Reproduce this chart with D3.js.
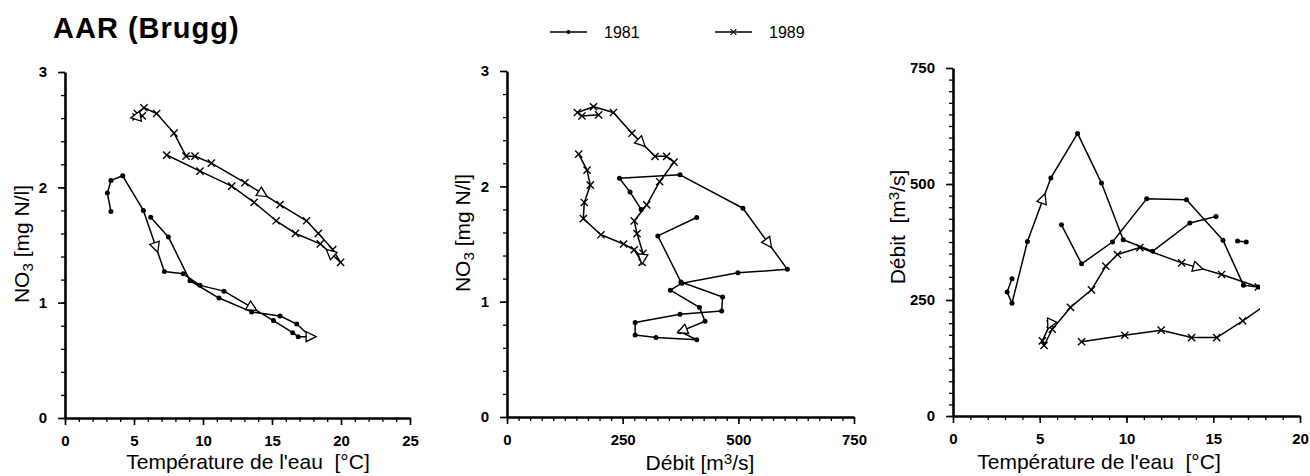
<!DOCTYPE html>
<html>
<head>
<meta charset="utf-8">
<script src="https://cdn.jsdelivr.net/npm/d3@7"></script>
<style>
  body { margin: 0; background: #fff; }
  svg { display: block; }
  text { font-family: "Liberation Sans", Arial, Helvetica, sans-serif; fill: #000; }
</style>
</head>
<body>
<svg id="chart" width="1310" height="476"></svg>
<script>
// ---- Data -------------------------------------------------------------
const years = ["1981", "1989"];

const tempTicks25 = [0, 5, 10, 15, 20, 25];
const tempTicks20 = [0, 5, 10, 15, 20];
const flowTicks = [0, 250, 500, 750];
const no3Ticks = [0, 1, 2, 3];

// NO3 [mg N/l] vs water temperature [°C], in sampling order
const no3Temp1981 = [[3.33,1.79],[3.07,1.95],[3.33,2.06],[4.18,2.10],[5.68,1.80],[7.2,1.27],[8.57,1.25],
  [9.78,1.15],[11.52,1.10],[13.65,0.95],[15.1,0.845],[16.5,0.74],[16.9,0.705],[17.8,0.705],[16.79,0.815],
  [15.58,0.885],[13.53,0.92],[11.16,1.04],[9.06,1.19],[7.49,1.57],[6.21,1.74]];
const no3Temp1989 = [[5.6,2.62],[5.15,2.61],[5.25,2.64],[5.72,2.69],[6.64,2.64],[7.9,2.47],[8.77,2.27],
  [9.42,2.27],[10.6,2.21],[13.04,2.04],[15.58,1.85],[17.5,1.71],[18.36,1.60],[19.4,1.46],[19.97,1.35],
  [18.5,1.51],[16.7,1.60],[15.3,1.71],[13.7,1.87],[12.08,2.01],[9.78,2.14],[7.37,2.28]];

// NO3 [mg N/l] vs discharge [m3/s]
const no3Flow1981 = [[290,1.80],[266,1.95],[243,2.07],[374,2.10],[510,1.81],[606,1.28],[499,1.25],
  [378,1.16],[353,1.10],[416,0.95],[428,0.83],[374,0.74],[410,0.67],[322,0.69],[277,0.71],[277,0.82],
  [374,0.89],[464,0.92],[466,1.04],[376,1.17],[326,1.57],[410,1.73]];
const no3Flow1989 = [[198,2.62],[162,2.61],[152,2.64],[187,2.69],[230,2.64],[270,2.46],[320,2.26],
  [345,2.26],[361,2.21],[330,2.04],[302,1.84],[275,1.70],[281,1.59],[294,1.42],[292,1.34],[275,1.45],
  [252,1.50],[203,1.58],[165,1.72],[167,1.86],[180,2.01],[173,2.14],[155,2.28]];

// Discharge [m3/s] vs water temperature [°C]; null = no connecting line
const flowTemp1981 = [[3.40,296],[3.12,267],[3.40,243],[4.29,376],[5.64,513],[7.18,609],[8.56,502],
  [9.81,380],[11.5,355],[13.65,416],[15.16,430],null,[16.4,377],[16.9,375],null,[17.6,278],[16.74,282],
  [15.56,379],[13.46,466],[11.16,468],[9.19,375],[7.41,328],[6.25,412]];
const flowTemp1989 = [[5.6,198],[5.15,162],[5.25,152],[5.72,187],[6.77,234],[7.98,272],[8.81,323],
  [9.48,348],[10.77,363],[13.18,330],[15.48,305],[17.6,278],[18.36,281],[19.4,294],[19.97,292],
  [18.5,252],[16.7,205],[15.2,169],[13.75,169],[12.0,185],[9.9,174],[7.41,160]];

// Direction arrows: [segment index, position along the segment]
const dirNo3Temp1981 = [[4,0.6],[8,0.95],[12,1]];
const dirNo3Temp1989 = [[0,1],[9,0.5],[14,0.5]];
const dirNo3Flow1981 = [[4,0.57],[10,0.9]];
const dirNo3Flow1989 = [[5,0.4],[13,0.6]];
const dirFlowTemp1981 = [[3,0.67]];
const dirFlowTemp1989 = [[0,0],[9,0.4]];

// ---- Drawing ----------------------------------------------------------
const svg = d3.select("#chart");

const markerShapes = {
  dot: g => g.append("circle").attr("r", 2.5).attr("fill", "#000"),
  cross: g => g.append("path").attr("d", "M-3.6,-3.6L3.6,3.6M-3.6,3.6L3.6,-3.6")
    .attr("stroke", "#000").attr("stroke-width", 1.4).attr("fill", "none")
};
const yearMarker = { "1981": "dot", "1989": "cross" };

const panels = [
  {
    id: "p1", xDomain: [0, 25], yDomain: [0, 3], xRange: [65, 410], yRange: [418, 72],
    xTicks: tempTicks25, xMinor: 1, yTicks: no3Ticks, yMinor: 0.2,
    series: [
      { year: "1981", pts: no3Temp1981, dirs: dirNo3Temp1981 },
      { year: "1989", pts: no3Temp1989, dirs: dirNo3Temp1989 }
    ],
    xLabel: { parts: [["Température de l'eau  [°C]"]], x: 248, y: 469 },
    yLabel: { parts: [["NO"], ["3", "sub"], [" [mg N/l]"]], x: 29, y: 244 }
  },
  {
    id: "p2", xDomain: [0, 750], yDomain: [0, 3], xRange: [507, 854], yRange: [417, 71],
    xTicks: flowTicks, xMinor: 25, yTicks: no3Ticks, yMinor: 0.2,
    series: [
      { year: "1981", pts: no3Flow1981, dirs: dirNo3Flow1981 },
      { year: "1989", pts: no3Flow1989, dirs: dirNo3Flow1989 }
    ],
    xLabel: { parts: [["Débit [m"], ["3", "sup"], ["/s]"]], x: 700, y: 470 },
    yLabel: { parts: [["NO"], ["3", "sub"], [" [mg N/l]"]], x: 470, y: 233 }
  },
  {
    id: "p3", xDomain: [0, 20], yDomain: [0, 750], xRange: [953, 1300], yRange: [416, 68],
    xTicks: tempTicks20, xMinor: 1, yTicks: flowTicks, yMinor: 25, clipX: 17.7,
    series: [
      { year: "1981", pts: flowTemp1981, dirs: dirFlowTemp1981 },
      { year: "1989", pts: flowTemp1989, dirs: dirFlowTemp1989 }
    ],
    xLabel: { parts: [["Température de l'eau  [°C]"]], x: 1099, y: 469 },
    yLabel: { parts: [["Débit  [m"], ["3", "sup"], ["/s]"]], x: 905, y: 227 }
  }
];

function addLabel(sel, parts) {
  parts.forEach(([txt, kind]) => {
    const t = sel.append("tspan").text(txt);
    if (kind === "sub") t.attr("baseline-shift", "-28%").attr("font-size", "0.72em");
    if (kind === "sup") t.attr("baseline-shift", "42%").attr("font-size", "0.72em");
  });
}

function range(a, b, step) {
  const n = Math.round((b - a) / step);
  return d3.range(n + 1).map(i => a + i * step);
}

panels.forEach(p => {
  const x = d3.scaleLinear().domain(p.xDomain).range(p.xRange);
  const y = d3.scaleLinear().domain(p.yDomain).range(p.yRange);
  const g = svg.append("g").attr("class", p.id);

  // minor ticks
  g.append("g").attr("transform", `translate(0,${p.yRange[0]})`)
    .call(d3.axisBottom(x).tickValues(range(p.xDomain[0], p.xDomain[1], p.xMinor))
      .tickSize(4).tickSizeOuter(0).tickFormat(""))
    .call(a => a.select(".domain").remove())
    .selectAll("line").attr("stroke-width", 1.3);
  g.append("g").attr("transform", `translate(${p.xRange[0]},0)`)
    .call(d3.axisLeft(y).tickValues(range(p.yDomain[0], p.yDomain[1], p.yMinor))
      .tickSize(4).tickSizeOuter(0).tickFormat(""))
    .call(a => a.select(".domain").remove())
    .selectAll("line").attr("stroke-width", 1.3);

  // major ticks and labels
  const xa = g.append("g").attr("transform", `translate(0,${p.yRange[0]})`)
    .call(d3.axisBottom(x).tickValues(p.xTicks).tickSize(7).tickSizeOuter(0).tickPadding(10)
      .tickFormat(d3.format("d")));
  const ya = g.append("g").attr("transform", `translate(${p.xRange[0]},0)`)
    .call(d3.axisLeft(y).tickValues(p.yTicks).tickSize(7).tickSizeOuter(0).tickPadding(11)
      .tickFormat(d3.format("d")));
  [xa, ya].forEach(a => {
    a.select(".domain").attr("stroke-width", 2.6).attr("stroke", "#000");
    a.selectAll("line").attr("stroke-width", 1.6).attr("stroke", "#000");
    a.selectAll("text").attr("font-size", 15).attr("font-weight", "bold")
      .attr("font-family", '"Liberation Sans", Arial, sans-serif');
  });

  // axis titles
  addLabel(g.append("text").attr("x", p.xLabel.x).attr("y", p.xLabel.y)
    .attr("text-anchor", "middle").attr("font-size", 21).style("white-space", "pre"), p.xLabel.parts);
  addLabel(g.append("text").attr("transform", `translate(${p.yLabel.x},${p.yLabel.y}) rotate(-90)`)
    .attr("text-anchor", "middle").attr("font-size", 21).style("white-space", "pre"), p.yLabel.parts);

  // plot area (optionally clipped on the right)
  const clipRight = p.clipX != null ? x(p.clipX) : p.xRange[1] + 20;
  svg.append("clipPath").attr("id", "clip-" + p.id).append("rect")
    .attr("x", p.xRange[0] - 10).attr("y", p.yRange[1] - 20)
    .attr("width", clipRight - p.xRange[0] + 10).attr("height", p.yRange[0] - p.yRange[1] + 20);
  const plot = g.append("g").attr("clip-path", `url(#clip-${p.id})`);

  const line = d3.line().defined(d => d != null).x(d => x(d[0])).y(d => y(d[1]));

  p.series.forEach(s => {
    plot.append("path").datum(s.pts).attr("d", line)
      .attr("fill", "none").attr("stroke", "#000").attr("stroke-width", 1.5)
      .attr("stroke-linejoin", "round");

    plot.append("g").selectAll("g").data(s.pts.filter(d => d != null)).join("g")
      .attr("transform", d => `translate(${x(d[0])},${y(d[1])})`)
      .each(function () { markerShapes[yearMarker[s.year]](d3.select(this)); });

    // open triangles showing the direction of travel
    plot.append("g").selectAll("path").data(s.dirs).join("path")
      .attr("d", "M5.5,0L-4.5,-5L-4.5,5Z")
      .attr("fill", "#fff").attr("stroke", "#000").attr("stroke-width", 1.3)
      .attr("transform", ([i, t]) => {
        const a = s.pts[i], b = s.pts[i + 1];
        const ax = x(a[0]), ay = y(a[1]), bx = x(b[0]), by = y(b[1]);
        const px = ax + (bx - ax) * t, py = ay + (by - ay) * t;
        const ang = Math.atan2(by - ay, bx - ax) * 180 / Math.PI;
        return `translate(${px},${py}) rotate(${ang})`;
      });
  });
});

// ---- Title and legend --------------------------------------------------
svg.append("text").attr("x", 53).attr("y", 38).attr("font-size", 29)
  .attr("font-weight", "bold").attr("letter-spacing", 1).text("AAR (Brugg)");

const legendX = d3.scaleOrdinal().domain(years).range([550, 715]);
const lg = svg.append("g").selectAll("g").data(years).join("g")
  .attr("transform", d => `translate(${legendX(d)},32)`);
lg.append("line").attr("x1", 0).attr("x2", 37).attr("stroke", "#000").attr("stroke-width", 1.5);
lg.append("g").attr("transform", "translate(18.5,0) scale(0.8)")
  .each(function (d) { markerShapes[yearMarker[d]](d3.select(this)); });
lg.append("text").attr("x", 54).attr("y", 5.5).attr("font-size", 16).text(d => d);
</script>
</body>
</html>
